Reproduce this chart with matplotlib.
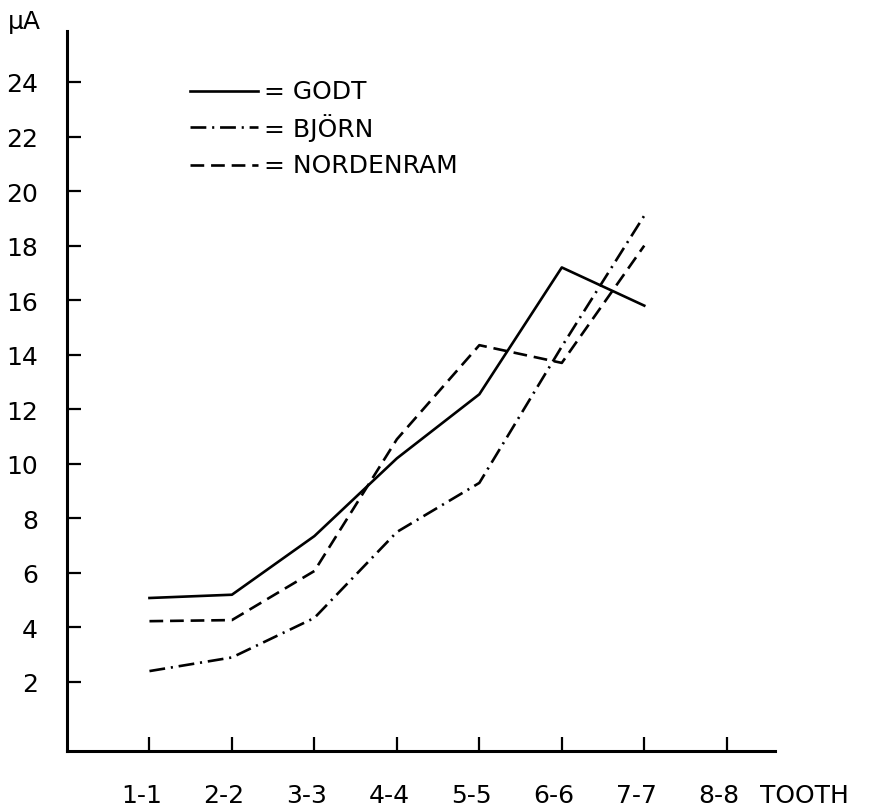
import matplotlib
matplotlib.use("Agg")
import matplotlib.pyplot as plt
import matplotlib.transforms as mtransforms

teeth = ["1-1", "2-2", "3-3", "4-4", "5-5", "6-6", "7-7", "8-8"]
positions = [1, 2, 3, 4, 5, 6, 7, 8]
godt = [5.08, 5.2, 7.35, 10.2, 12.55, 17.2, 15.8]
bjorn = [2.4, 2.9, 4.35, 7.5, 9.3, 14.3, 19.1]
nordenram = [4.23, 4.27, 6.07, 10.9, 14.35, 13.7, 18.0]
yticks = [2, 4, 6, 8, 10, 12, 14, 16, 18, 20, 22, 24]

plt.rcParams['font.family'] = ['DejaVu Sans']
fig = plt.figure(figsize=(8.69, 8.12), dpi=100)
ax = fig.add_axes([0.0771, 0.0739, 0.8147, 0.8867])

lw = 1.9
solid_style = '-'
dashdot_style = (0, (6, 2.2, 0.8, 2.2))
dash_style = (0, (5.2, 2.6))

ax.plot(positions[:len(godt)], godt, color='black', lw=lw, linestyle=solid_style)
ax.plot(positions[:len(bjorn)], bjorn, color='black', lw=lw, linestyle=dashdot_style)
ax.plot(positions[:len(nordenram)], nordenram, color='black', lw=lw, linestyle=dash_style)

ax.set_xlim(0, 8.585)
ax.set_ylim(-0.53, 25.87)

for s in ['top', 'right']:
    ax.spines[s].set_visible(False)
for s in ['left', 'bottom']:
    ax.spines[s].set_linewidth(2.2)

fs = 18
ax.set_xticks(positions)
ax.set_xticklabels(teeth)
ax.set_yticks(yticks)
ax.set_yticklabels([str(v) for v in yticks])
ax.tick_params(axis='both', direction='in', length=10, width=1.6, labelsize=fs, colors='black')
ax.tick_params(axis='y', pad=21)
ax.tick_params(axis='x', pad=23)

# shift x tick labels slightly left, as in the hand-lettered original
offset = mtransforms.ScaledTranslation(-8 / 100, 0, fig.dpi_scale_trans)
for lab in ax.get_xticklabels():
    lab.set_transform(lab.get_transform() + offset)

# legend drawn manually
legend_items = [("GODT", solid_style), ("BJÖRN", dashdot_style), ("NORDENRAM", dash_style)]
leg_y = [92, 128, 166]
W, H = 869, 812
for (name, style), yp in zip(legend_items, leg_y):
    fy = 1 - yp / H
    fig.add_artist(plt.Line2D([190 / W, 258 / W], [fy, fy], color='black', lw=lw, linestyle=style))
    fig.text(264 / W, fy, "= " + name, fontsize=fs, va='center', ha='left')

fig.text(8 / W, 1 - 22 / H, "μA", fontsize=fs, va='center', ha='left')
fig.text(760 / W, 1 - 796 / H, "TOOTH", fontsize=fs, va='center', ha='left')

fig.savefig("out.png", dpi=100, facecolor='white')
